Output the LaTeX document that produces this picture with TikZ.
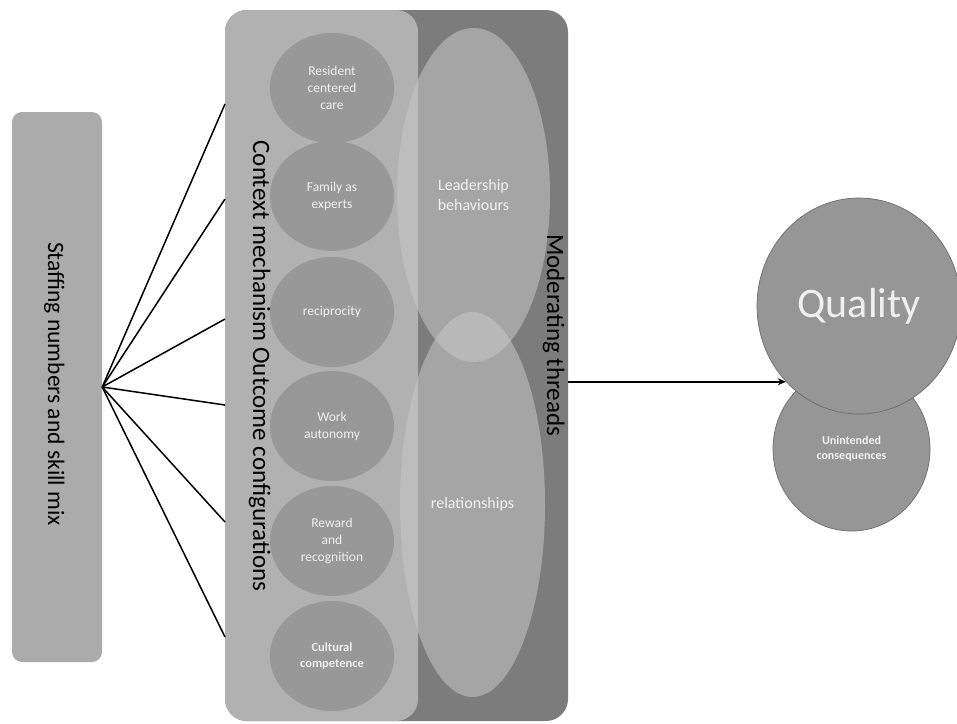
\documentclass[tikz,border=0pt]{standalone}
\usepackage{fontspec}
\setmainfont{Carlito}
\usetikzlibrary{shapes.geometric,arrows.meta}
\definecolor{darkbg}{HTML}{7C7C7C}
\definecolor{lightbg}{HTML}{B1B1B1}
\definecolor{circc}{HTML}{989898}
\definecolor{staffc}{HTML}{ABABAB}
\definecolor{threadc}{HTML}{C8C8C8}
\definecolor{qualc}{HTML}{969696}
\definecolor{qualedge}{HTML}{6C6C6C}
\definecolor{txtc}{HTML}{F0F0F0}
\begin{document}
\begin{tikzpicture}[x=1pt,y=-1pt,
  roundbox/.style={rectangle, rounded corners=#1, inner sep=0pt, draw=none},
  cmo/.style={ellipse, inner sep=0pt, minimum width=124pt, minimum height=110pt,
    fill=circc, text=txtc, align=center, font=\fontsize{13.5}{17}\selectfont},
  cmobold/.style={cmo, font=\bfseries\fontsize{12.5}{16}\selectfont},
  thread/.style={ellipse, inner sep=0pt, fill=threadc, fill opacity=0.55,
    text opacity=1, text=txtc, align=center, font=\fontsize{16}{20}\selectfont},
  biglabel/.style={rotate=-90, anchor=base, text=black, font=\fontsize{25}{30}\selectfont},
  link/.style={line width=1.5pt, black},
  outcome/.style={ellipse, inner sep=0pt, fill=qualc, draw=qualedge, line width=0.7pt,
    text=txtc, align=center}
]
\useasboundingbox (0,0) rectangle (957,723);
\fill[white] (0,0) rectangle (957,723);

% left box
\node[roundbox=10pt, fill=staffc, minimum width=90pt, minimum height=550pt] (staff) at (57,387) {};
\node[rotate=-90, anchor=base, font=\fontsize{23.5}{28}\selectfont] (stafflab) at (48,384) {Staffing numbers and skill mix};

% containers
\node[roundbox=22pt, fill=darkbg, minimum width=343pt, minimum height=711pt] (outer) at (396.5,365.5) {};
\node[roundbox=22pt, fill=lightbg, minimum width=193pt, minimum height=711pt] (inner) at (321.5,365.5) {};

% moderating threads
\node[thread, minimum width=153pt, minimum height=334pt] (lead) at (473.5,195) {Leadership\\behaviours};
\node[thread, minimum width=145pt, minimum height=385pt] (rel) at (472.5,504.5) {relationships};

% CMO circles
\node[cmo] (c1) at (332,88) {Resident\\centered\\care};
\node[cmo] (c2) at (332,196) {Family as\\experts};
\node[cmo] (c3) at (332,312) {reciprocity};
\node[cmo] (c4) at (332,426) {Work\\autonomy};
\node[cmo] (c5) at (332,541) {Reward\\and\\recognition};
\node[cmobold] (c6) at (332,656) {Cultural\\competence};

% rotated labels
\node[biglabel] (ctxlab) at (253,366) {Context mechanism Outcome configurations};
\node[biglabel] (modlab) at (547,335) {Moderating threads};

% outcomes
\node[outcome, minimum width=157pt, minimum height=164pt,
  font=\bfseries\fontsize{12}{15}\selectfont] (unint) at (851.5,449) {Unintended\\consequences};
\node[outcome, minimum width=204pt, minimum height=216pt,
  font=\fontsize{42}{48}\selectfont] (qual) at (859,306) {Quality};

% connectors
\coordinate (e1) at (225,104);
\coordinate (e2) at (225,199);
\coordinate (e3) at (225,319);
\coordinate (e4) at (225,405);
\coordinate (e5) at (225,522);
\coordinate (e6) at (225,637);
\foreach \e in {e1,e2,e3,e4,e5,e6}
  \draw[link] (staff.east) -- (\e);

\draw[link, -{Stealth[length=8pt,width=7pt]}] (outer.east |- qual.226) -- (qual.226);
\end{tikzpicture}
\end{document}
